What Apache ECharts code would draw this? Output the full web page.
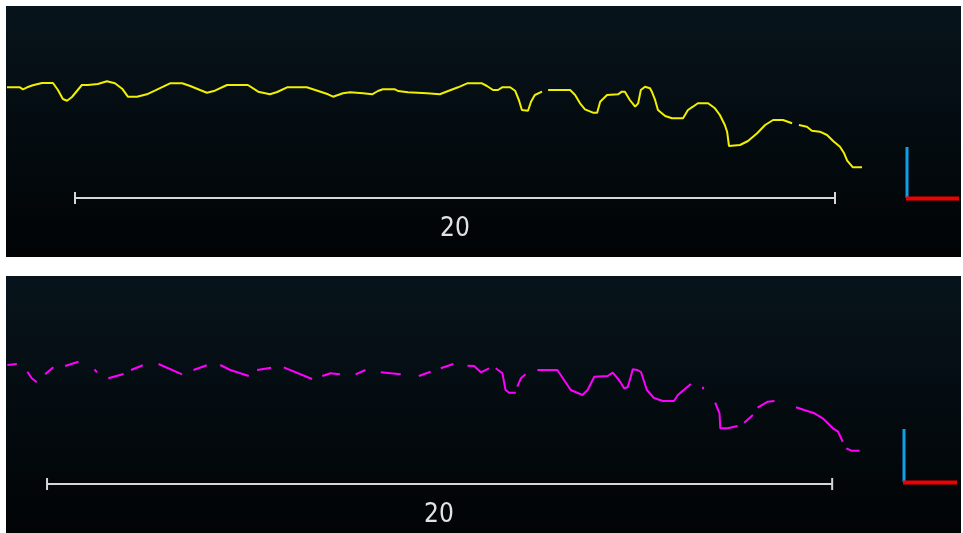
<!DOCTYPE html>
<html>
<head>
<meta charset="utf-8">
<script src="https://cdn.jsdelivr.net/npm/echarts@6/dist/echarts.min.js"></script>
<style>
html,body{margin:0;padding:0;background:#fff;}
#main{width:963px;height:533px;}
</style>
</head>
<body>
<div id="main"></div>
<script>
// Profile 1 (yellow): distance (km) and elevation (m); null = gap
const topDist = [0,0.34,0.42,0.53,0.68,0.92,1.21,1.34,1.47,1.58,1.71,1.97,2.13,2.39,2.63,2.84,3.03,3.18,3.42,3.68,3.89,4.11,4.29,4.61,4.82,5.08,5.26,5.47,5.79,6.34,6.61,6.92,7.11,7.37,7.89,8.11,8.45,8.58,8.84,9.03,9.37,9.61,9.76,9.89,10.21,10.29,10.55,11.05,11.39,11.61,11.87,12.11,12.5,12.63,12.79,12.92,13.03,13.24,13.37,13.47,13.55,13.71,13.79,13.89,14.08,14.16,14.24,14.82,14.95,15.08,15.21,15.42,15.53,15.61,15.79,16.08,16.18,16.26,16.39,16.53,16.61,16.68,16.79,16.92,16.97,17.05,17.13,17.32,17.5,17.79,17.92,18.05,18.18,18.45,18.63,18.76,18.89,18.95,19.0,19.29,19.5,19.74,19.95,20.16,20.42,20.66,20.75,20.84,21.05,21.18,21.39,21.58,21.74,21.92,22.03,22.11,22.26,22.5];
const topElev = [1697,1697,1677,1697,1717,1740,1740,1670,1580,1563,1600,1720,1720,1730,1757,1737,1683,1603,1603,1627,1663,1703,1737,1737,1710,1670,1643,1663,1720,1720,1653,1627,1650,1697,1697,1670,1627,1603,1637,1647,1637,1627,1660,1677,1677,1660,1647,1637,1627,1660,1697,1737,1737,1710,1670,1670,1697,1697,1663,1570,1470,1463,1553,1620,1653,null,1670,1670,1620,1537,1477,1443,1443,1553,1620,1627,1653,1653,1570,1503,1537,1670,1703,1687,1653,1577,1470,1410,1387,1387,1470,1503,1537,1537,1487,1420,1320,1253,1110,1120,1160,1237,1320,1370,1370,1337,null,1320,1303,1263,1253,1220,1160,1103,1037,963,897,897];

// Profile 2 (magenta): distance (km) and elevation (m); null = gap
const botDist = [0.01,0.25,0.4,0.52,0.63,0.76,0.87,0.97,1.18,1.33,1.48,1.82,2.0,2.23,2.29,2.44,2.58,2.97,3.07,3.16,3.46,3.66,3.86,4.46,4.6,4.75,5.09,5.26,5.43,5.69,6.16,6.27,6.37,6.73,6.9,7.05,7.77,7.9,8.03,8.24,8.48,8.7,8.88,9.13,9.33,9.52,10.03,10.26,10.49,10.79,10.92,11.05,11.37,11.55,11.73,11.9,12.07,12.28,12.37,12.45,12.62,12.66,12.7,12.79,12.96,12.98,13.0,13.09,13.21,13.36,13.51,14.02,14.19,14.36,14.66,14.79,14.96,15.3,15.43,15.47,15.59,15.72,15.81,15.89,15.94,16.06,16.15,16.3,16.48,16.71,16.99,17.09,17.42,17.57,17.72,17.74,17.89,18.04,18.15,18.17,18.36,18.61,18.7,18.78,19.0,19.06,19.12,19.38,19.55,19.8,20.1,20.31,20.57,20.78,21.04,21.17,21.29,21.33,21.38,21.51,21.72];
const botElev = [1610,1620,null,1543,1477,1437,null,1517,1587,null,1600,1643,null,1567,1537,null,1477,1520,null,1560,1607,null,1620,1517,null,1560,1607,null,1610,1560,1500,null,1560,1583,null,1587,1470,null,1500,1527,1517,null,1517,1560,null,1537,1517,null,1500,1543,null,1577,1620,null,1603,1600,1537,1577,null,1577,1527,1443,1360,1333,1333,null,1393,1477,1517,null,1560,1560,1460,1360,1310,1360,1493,1500,1533,1527,1460,1377,1387,1493,1567,1560,1540,1360,1280,1250,1250,1310,1420,null,1393,1367,null,1233,1127,977,977,1000,null,1033,1110,null,1183,1243,1250,null,1187,1160,1127,1077,977,943,843,null,777,753,753];

// Scale bars
const scaleLength = 20;
const scaleLabel = '20';
const topScaleStart = 1.79, topScaleElev = 590;
const botScaleStart = 1.02, botScaleElev = 420;

function pairs(xs, ys) {
  return xs.map((x, i) => [x, ys[i] === null ? '-' : ys[i]]);
}

const chart = echarts.init(document.getElementById('main'), null, {renderer: 'canvas'});

const bgGrad = new echarts.graphic.LinearGradient(0, 0, 0, 1, [
  {offset: 0, color: '#07141b'},
  {offset: 1, color: '#010305'}
]);

const axisX = (gi, max) => ({gridIndex: gi, type: 'value', min: 0, max: max, show: false});
const axisY = (gi) => ({gridIndex: gi, type: 'value', min: 0, max: 2500, show: false});
const labelFont = '26px "DejaVu Sans Condensed", "DejaVu Sans"';

const option = {
  backgroundColor: '#ffffff',
  animation: false,
  grid: [
    {left: 7, top: 7, width: 950, height: 250, show: false},
    {left: 7, top: 276, width: 950, height: 250, show: false}
  ],
  xAxis: [axisX(0, 25), axisX(1, 24.2)],
  yAxis: [axisY(0), axisY(1)],
  graphic: [
    {type: 'rect', z: 0, shape: {x: 6, y: 6, width: 955, height: 251}, style: {fill: bgGrad}},
    {type: 'rect', z: 0, shape: {x: 6, y: 276, width: 955, height: 257}, style: {fill: bgGrad}},
    {type: 'text', z: 5, x: 455, y: 229, style: {text: scaleLabel, fill: '#e2e2e2', font: labelFont, align: 'center', verticalAlign: 'middle'}},
    {type: 'text', z: 5, x: 439, y: 515, style: {text: scaleLabel, fill: '#e2e2e2', font: labelFont, align: 'center', verticalAlign: 'middle'}},
    {type: 'line', z: 5, shape: {x1: 907, y1: 147, x2: 907, y2: 198}, style: {stroke: '#0ea0e8', lineWidth: 3}},
    {type: 'line', z: 5, shape: {x1: 906, y1: 198.5, x2: 959, y2: 198.5}, style: {stroke: '#f00000', lineWidth: 4}},
    {type: 'line', z: 5, shape: {x1: 904, y1: 429, x2: 904, y2: 482}, style: {stroke: '#0ea0e8', lineWidth: 3}},
    {type: 'line', z: 5, shape: {x1: 903, y1: 482.5, x2: 957, y2: 482.5}, style: {stroke: '#f00000', lineWidth: 4}}
  ],
  series: [
    {
      type: 'line', xAxisIndex: 0, yAxisIndex: 0, z: 3,
      data: pairs(topDist, topElev), showSymbol: false, connectNulls: false,
      lineStyle: {color: '#f0f000', width: 2}, itemStyle: {color: '#f0f000'}
    },
    {
      type: 'line', xAxisIndex: 1, yAxisIndex: 1, z: 3,
      data: pairs(botDist, botElev), showSymbol: false, connectNulls: false,
      lineStyle: {color: '#ff00ff', width: 2}, itemStyle: {color: '#ff00ff'}
    },
    {
      type: 'line', xAxisIndex: 0, yAxisIndex: 0, z: 3,
      data: [[topScaleStart, topScaleElev], [topScaleStart + scaleLength, topScaleElev]],
      symbol: 'rect', symbolSize: [2, 12], showSymbol: true,
      lineStyle: {color: '#d6d6d6', width: 2}, itemStyle: {color: '#d6d6d6'}
    },
    {
      type: 'line', xAxisIndex: 1, yAxisIndex: 1, z: 3,
      data: [[botScaleStart, botScaleElev], [botScaleStart + scaleLength, botScaleElev]],
      symbol: 'rect', symbolSize: [2, 12], showSymbol: true,
      lineStyle: {color: '#d6d6d6', width: 2}, itemStyle: {color: '#d6d6d6'}
    }
  ]
};
chart.setOption(option);
</script>
</body>
</html>
